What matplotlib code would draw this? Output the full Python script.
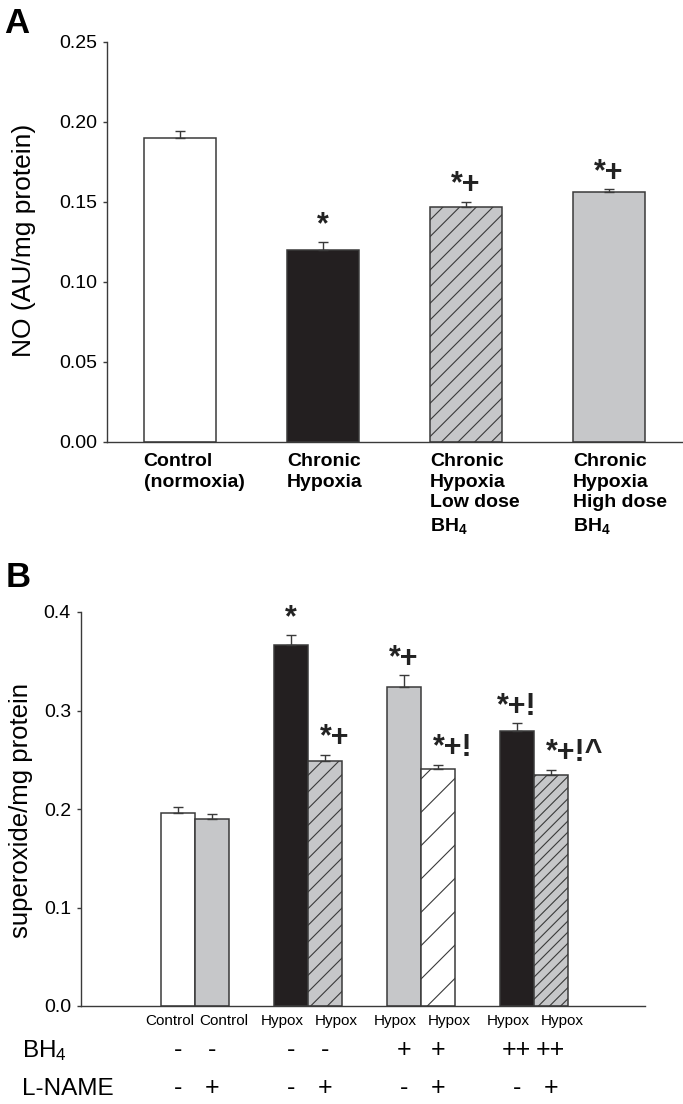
import numpy as np
import matplotlib
matplotlib.use("Agg")
import matplotlib.pyplot as plt

plt.rcParams['font.family'] = ['Liberation Sans', 'DejaVu Sans']
plt.rcParams['mathtext.fontset'] = 'custom'
plt.rcParams['mathtext.rm'] = 'Liberation Sans'
plt.rcParams['mathtext.it'] = 'Liberation Sans:italic'
plt.rcParams['mathtext.bf'] = 'Liberation Sans:bold'
plt.rcParams['hatch.linewidth'] = 0.8

# ---- panel A data: NO production
a_labels = ["Control\n(normoxia)", "Chronic\nHypoxia",
            "Chronic\nHypoxia\nLow dose\nBH$_\\mathbf{4}$",
            "Chronic\nHypoxia\nHigh dose\nBH$_\\mathbf{4}$"]
a_vals = [0.190, 0.120, 0.147, 0.156]
a_err = [0.004, 0.005, 0.003, 0.002]
a_sig = ["", "*", "*+", "*+"]
a_ticks = [0.00, 0.05, 0.10, 0.15, 0.20, 0.25]

# ---- panel B data: superoxide
b_labels = ["Control", "Control", "Hypox", "Hypox", "Hypox", "Hypox", "Hypox", "Hypox"]
b_vals = [0.196, 0.190, 0.367, 0.249, 0.324, 0.241, 0.279, 0.235]
b_err = [0.006, 0.005, 0.010, 0.006, 0.012, 0.004, 0.008, 0.005]
b_sig = ["", "", "*", "*+", "*+", "*+!", "*+!", "*+!^"]
b_bh4 = ["-", "-", "-", "-", "+", "+", "++", "++"]
b_lname = ["-", "+", "-", "+", "-", "+", "-", "+"]
b_ticks = [0.0, 0.1, 0.2, 0.3, 0.4]

black = '#231f20'
gray = '#c6c7c9'
edge = '#3a3a3a'

a_face = ['white', black, gray, gray]
a_hatch = [None, None, '//', None]
b_face = ['white', gray, black, gray, gray, 'white', black, gray]
b_hatch = [None, None, None, '//', None, '/', None, '///']

W, H = 683, 1104
fig = plt.figure(figsize=(W / 100, H / 100), dpi=100)
axA = fig.add_axes([107 / W, 1 - 442 / H, (682 - 107) / W, (442 - 41.7) / H])
axB = fig.add_axes([81 / W, 1 - 1006 / H, (645 - 81) / W, (1006 - 612) / H])


def style(ax):
    for s in ['top', 'right']:
        ax.spines[s].set_visible(False)
    for s in ['left', 'bottom']:
        ax.spines[s].set_color(edge)
        ax.spines[s].set_linewidth(1.0)
    ax.tick_params(axis='y', length=3.2, width=1.0, color=edge, pad=4, labelsize=14)
    ax.tick_params(axis='x', length=0)


# ---------- A ----------
xa = np.arange(len(a_vals))
wa = 0.503
axA.bar(xa, a_vals, wa, color=a_face, hatch=a_hatch, edgecolor=edge, linewidth=1.1, zorder=2)
axA.errorbar(xa, a_vals, yerr=[np.zeros(len(a_err)), a_err], fmt='none',
             ecolor=edge, elinewidth=1.0, capsize=3.6, capthick=1.0, zorder=3)
axA.set_xlim(-0.508, 3.511)
axA.set_ylim(0, 0.25)
axA.set_yticks(a_ticks, labels=[f"{t:.2f}" for t in a_ticks])
axA.set_xticks(xa - wa / 2, labels=a_labels, fontweight='bold', fontsize=14, ha='left',
               linespacing=1.28)
style(axA)
axA.tick_params(axis='x', pad=8)
for x, v, e, s in zip(xa, a_vals, a_err, a_sig):
    if s:
        axA.annotate(s, (x, v + e), xytext=(0, 6), textcoords='offset points',
                     ha='center', va='baseline', fontsize=22, fontweight='bold', color='#222')

# ---------- B ----------
xb = np.repeat(np.arange(4), 2) + np.tile([-0.15, 0.15], 4)
wb = 0.30
axB.bar(xb, b_vals, wb, color=b_face, hatch=b_hatch, edgecolor=edge, linewidth=1.1, zorder=2)
axB.errorbar(xb, b_vals, yerr=[np.zeros(len(b_err)), b_err], fmt='none',
             ecolor=edge, elinewidth=1.0, capsize=3.6, capthick=1.0, zorder=3)
axB.set_xlim(-1.01, 3.986)
axB.set_ylim(0, 0.4)
axB.set_yticks(b_ticks, labels=[f"{t:.1f}" for t in b_ticks])
axB.set_xticks([])
style(axB)
for i, (x, v, e, s) in enumerate(zip(xb, b_vals, b_err, b_sig)):
    # group labels sit slightly outward from their bars
    dx = -6.3 if i % 2 == 0 else 8.5
    axB.annotate(b_labels[i], (x, 0), xycoords=('data', 'axes fraction'), xytext=(dx, -14),
                 textcoords='offset points', ha='center', va='baseline', fontsize=11)
    if not s:
        continue
    if i % 2 == 0:
        axB.annotate(s, (x, v + e), xytext=(0, 6), textcoords='offset points',
                     ha='center', va='baseline', fontsize=22, fontweight='bold', color='#222')
    else:
        axB.annotate(s, (x, v + e), xytext=(-3.5, 6), textcoords='offset points',
                     ha='left', va='baseline', fontsize=22, fontweight='bold', color='#222')

# treatment rows under panel B
for x, m1, m2 in zip(xb, b_bh4, b_lname):
    axB.annotate(m1, (x, 0), xycoords=('data', 'axes fraction'), xytext=(0, -36.7),
                 textcoords='offset points', ha='center', va='baseline', fontsize=18)
    axB.annotate(m2, (x, 0), xycoords=('data', 'axes fraction'), xytext=(0, -64),
                 textcoords='offset points', ha='center', va='baseline', fontsize=18)
fig.text(22 / W, 1 - 1057 / H, "BH$_4$", fontsize=17.5, ha='left', va='baseline')
fig.text(22 / W, 1 - 1095 / H, "L-NAME", fontsize=17.5, ha='left', va='baseline')

# axis titles and panel letters
fig.text(24 / W, 1 - 240 / H, "NO (AU/mg protein)", rotation=90, fontsize=19,
         ha='center', va='center')
fig.text(21 / W, 1 - 810 / H, "superoxide/mg protein", rotation=90, fontsize=18.5,
         ha='center', va='center')
fig.text(4 / W, 1 - 33 / H, "A", fontsize=25, fontweight='bold', va='baseline')
fig.text(6 / W, 1 - 587 / H, "B", fontsize=25, fontweight='bold', va='baseline')

fig.savefig("out.png", dpi=100)
